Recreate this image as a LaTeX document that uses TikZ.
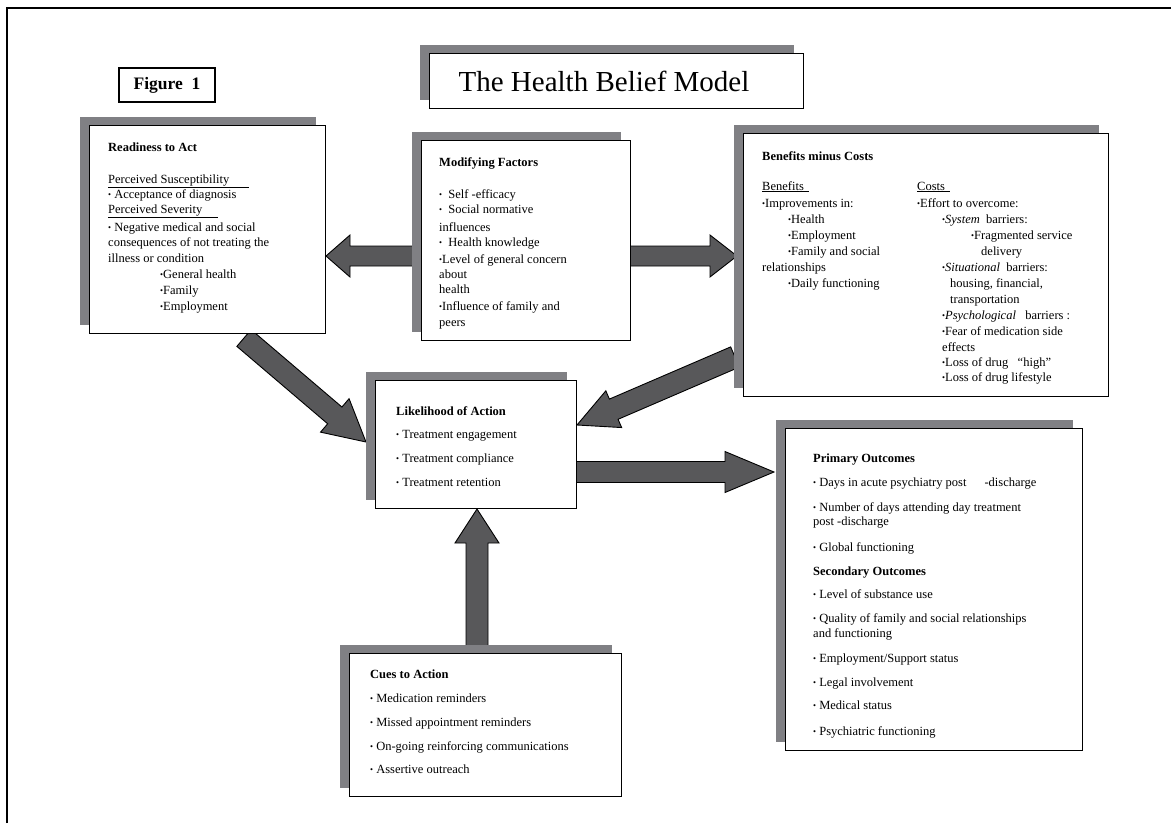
\documentclass[tikz,border=0pt]{standalone}
\usepackage{fontspec}
\setmainfont{Liberation Serif}
\usetikzlibrary{calc,shadows}
\definecolor{shgray}{RGB}{128,128,132}
\definecolor{arrgray}{RGB}{88,88,90}
\newcommand{\bu}{\raisebox{0.5pt}{\fontsize{8.5}{9}\selectfont\textbullet}}
\newcommand{\blockarrow}[5]{%
  \coordinate (hb) at ($(#2)!#5!(#1)$);
  \draw[blockarr] ($(#1)!#3!90:(#2)$) -- ($(hb)!#3!90:(#2)$) -- ($(hb)!#4!90:(#2)$) -- (#2)
    -- ($(hb)!#4!-90:(#2)$) -- ($(hb)!#3!-90:(#2)$) -- ($(#1)!#3!-90:(#2)$) -- cycle;
}
\tikzset{
  box/.style={draw=black, line width=1.1pt, fill=white, inner sep=0, anchor=north west,
    general shadow={fill=shgray, shadow xshift=-9.5pt, shadow yshift=9pt}},
  figbox/.style={draw=black, line width=1.1pt, fill=white, inner sep=0,
    minimum width=96pt, minimum height=34pt, font=\fontsize{17.5}{20}\selectfont\bfseries},
  txt/.style={anchor=west, inner sep=0, font=\fontsize{12.5}{14}\selectfont, text height=9pt, text depth=1pt},
  hd/.style={txt, font=\fontsize{12.5}{14}\selectfont\bfseries},
  blockarr/.style={fill=arrgray, draw=black, line width=0.9pt, line join=miter},
}
\begin{document}
\begin{tikzpicture}[x=1pt,y=-1pt]
\useasboundingbox (0,0) rectangle (1171,823);
\fill[white] (0,0) rectangle (1171,823);
% frame
\draw[line width=1.6pt] (7,823) -- (7,8) -- (1171,8);

% arrows (drawn under the boxes)
\coordinate (a1s) at (415,256); \coordinate (a1e) at (326,256);
\blockarrow{a1s}{a1e}{10pt}{21pt}{24pt}
\coordinate (a2s) at (625,256); \coordinate (a2e) at (737,256);
\blockarrow{a2s}{a2e}{10pt}{21pt}{27pt}
\coordinate (a3s) at (244,338); \coordinate (a3e) at (366,442);
\blockarrow{a3s}{a3e}{11pt}{22pt}{41pt}
\coordinate (a4s) at (735,357); \coordinate (a4e) at (577,425);
\blockarrow{a4s}{a4e}{11pt}{20pt}{40pt}
\coordinate (a5s) at (570,472); \coordinate (a5e) at (774,472);
\blockarrow{a5s}{a5e}{10.5pt}{20.5pt}{49pt}
\coordinate (a6s) at (477,650); \coordinate (a6e) at (477,509);
\blockarrow{a6s}{a6e}{11pt}{22pt}{34pt}

% boxes
\node[figbox] (fig) at (167,85) {Figure\ \ 1};
\node[box, minimum width=374pt, minimum height=55pt] (tb) at (429,53) {};
\node[inner sep=0, font=\fontsize{29}{32}\selectfont] (tt) at (604,81) {The Health Belief Model};

\node[box, minimum width=236pt, minimum height=208pt] (rd) at (89,125) {};
\node[box, minimum width=209pt, minimum height=200pt] (mf) at (421,140) {};
\node[box, minimum width=365pt, minimum height=263pt] (bc) at (743,133) {};
\node[box, minimum width=201pt, minimum height=128pt] (la) at (375,380) {};
\node[box, minimum width=297pt, minimum height=322pt] (po) at (785,428) {};
\node[box, minimum width=272pt, minimum height=143pt] (ca) at (349,653) {};

% Readiness to Act
\node[hd]  (r0) at (108,147) {Readiness to Act};
\node[txt] (r1) at (108,179) {\underline{Perceived Susceptibility\hspace{20pt}}};
\node[txt] (r2) at (108,194) {\bu\ Acceptance of diagnosis};
\node[txt] (r3) at (108,209) {\underline{Perceived Severity\hspace{16pt}}};
\node[txt] (r4) at (108,227) {\bu\ Negative medical and social};
\node[txt] (r5) at (108,242) {consequences of not treating the};
\node[txt] (r6) at (108,258) {illness or condition};
\node[txt] (r7) at (160,274) {\bu General health};
\node[txt] (r8) at (160,290) {\bu Family};
\node[txt] (r9) at (160,306) {\bu Employment};

% Modifying Factors
\node[hd]  (m0) at (439,162) {Modifying Factors};
\node[txt] (m1) at (439,194) {\bu\ \ Self -efficacy};
\node[txt] (m2) at (439,209) {\bu\ \ Social normative};
\node[txt] (m3) at (439,227) {influences};
\node[txt] (m4) at (439,242) {\bu\ \ Health knowledge};
\node[txt] (m5) at (439,259) {\bu Level of general concern};
\node[txt] (m6) at (439,274) {about};
\node[txt] (m7) at (439,289) {health};
\node[txt] (m8) at (439,306) {\bu Influence of family and};
\node[txt] (m9) at (439,322) {peers};

% Benefits minus Costs
\node[hd]  (b0) at (762,156) {Benefits minus Costs};
\node[txt] (b1) at (762,186) {\underline{Benefits\hspace{5pt}}};
\node[txt] (b2) at (762,203) {\bu Improvements in:};
\node[txt] (b3) at (788,219) {\bu Health};
\node[txt] (b4) at (788,235) {\bu Employment};
\node[txt] (b5) at (788,251) {\bu Family and social};
\node[txt] (b6) at (762,267) {relationships};
\node[txt] (b7) at (788,283) {\bu Daily functioning};
\node[txt] (c1) at (917,186) {\underline{Costs\hspace{5pt}}};
\node[txt] (c2) at (917,203) {\bu Effort to overcome:};
\node[txt] (c3) at (942,219) {\bu\textit{System}\ \ barriers:};
\node[txt] (c4) at (971,235) {\bu Fragmented service};
\node[txt] (c5) at (981,251) {delivery};
\node[txt] (c6) at (942,267) {\bu\textit{Situational}\ \ barriers:};
\node[txt] (c7) at (950,283) {housing, financial,};
\node[txt] (c8) at (950,299) {transportation};
\node[txt] (c9) at (942,315) {\bu\textit{Psychological}\ \ \ barriers\ :};
\node[txt] (c10) at (942,331) {\bu Fear of medication side};
\node[txt] (c11) at (942,347) {effects};
\node[txt] (c12) at (942,362) {\bu Loss of drug\ \ \ “high”};
\node[txt] (c13) at (942,377) {\bu Loss of drug lifestyle};

% Likelihood of Action
\node[hd]  (l0) at (396,411) {Likelihood of Action};
\node[txt] (l1) at (396,434) {\bu\ Treatment engagement};
\node[txt] (l2) at (396,458) {\bu\ Treatment compliance};
\node[txt] (l3) at (396,482) {\bu\ Treatment retention};

% Outcomes
\node[hd]  (o0) at (813,458) {Primary Outcomes};
\node[txt] (o1) at (813,482) {\bu\ Days in acute psychiatry post\hspace{18pt}-discharge};
\node[txt] (o2) at (813,507) {\bu\ Number of days attending day treatment};
\node[txt] (o3) at (813,521) {post -discharge};
\node[txt] (o4) at (813,547) {\bu\ Global functioning};
\node[hd]  (o5) at (813,571) {Secondary Outcomes};
\node[txt] (o6) at (813,594) {\bu\ Level of substance use};
\node[txt] (o7) at (813,618) {\bu\ Quality of family and social relationships};
\node[txt] (o8) at (813,633) {and functioning};
\node[txt] (o9) at (813,658) {\bu\ Employment/Support status};
\node[txt] (o10) at (813,682) {\bu\ Legal involvement};
\node[txt] (o11) at (813,705) {\bu\ Medical status};
\node[txt] (o12) at (813,731) {\bu\ Psychiatric functioning};

% Cues to Action
\node[hd]  (q0) at (370,674) {Cues to Action};
\node[txt] (q1) at (370,698) {\bu\ Medication reminders};
\node[txt] (q2) at (370,722) {\bu\ Missed appointment reminders};
\node[txt] (q3) at (370,746) {\bu\ On-going reinforcing communications};
\node[txt] (q4) at (370,769) {\bu\ Assertive outreach};
\end{tikzpicture}
\end{document}
